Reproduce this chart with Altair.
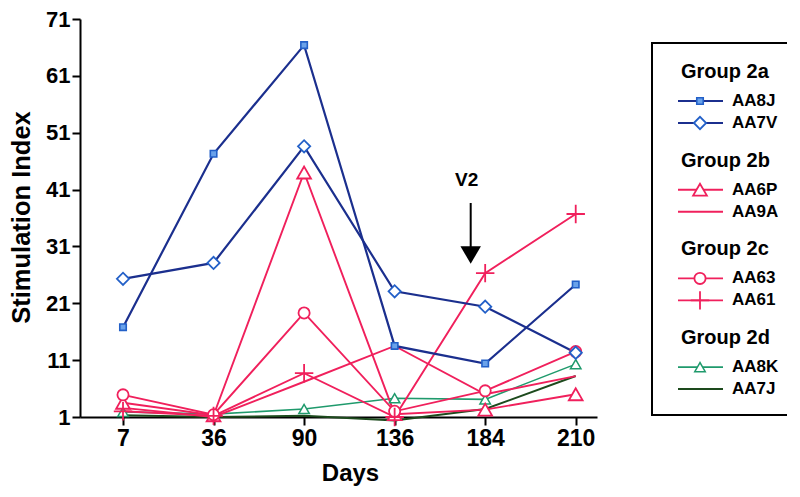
import json
import altair as alt
import pandas as pd

# ---------------- data ----------------
days = ["7", "36", "90", "136", "184", "210"]
groups = ["Group 2a", "Group 2b", "Group 2c", "Group 2d"]
group_members = [["AA8J", "AA7V"], ["AA6P", "AA9A"], ["AA63", "AA61"], ["AA8K", "AA7J"]]

AA8J = [16.8, 47.3, 66.4, 13.5, 10.4, 24.3]
AA7V = [25.3, 28.1, 48.6, 23.1, 20.4, 12.3]
AA6P = [3.5, 1.3, 44.0, 1.5, 2.3, 5.0]
AA9A = [2.6, 1.0, 7.2, 13.5, 5.0, 8.2]
AA63 = [4.9, 1.4, 19.3, 2.0, 5.6, 12.5]
AA61 = [2.0, 1.2, 8.7, 1.0, 26.3, 36.7]
AA8K = [1.9, 1.5, 2.4, 4.3, 4.1, 10.3]
AA7J = [1.3, 1.0, 1.2, 0.4, 2.4, 8.2]

series = {"AA8J": AA8J, "AA7V": AA7V, "AA6P": AA6P, "AA9A": AA9A,
          "AA63": AA63, "AA61": AA61, "AA8K": AA8K, "AA7J": AA7J}

annot_text = "V2"
annot_pos = 3.84      # between day 136 and 184 (index units)

# ---------------- styles ----------------
BLUE_L = "#1b2f8e"
BLUE_M = "#2360c8"
PINK = "#f0205c"
GREEN = "#1f9a6c"
DKGREEN = "#1d4a1d"
CROSS = "M-1,0L1,0M0,-1L0,1"

sty = {
    "AA8J": dict(line=BLUE_L, lw=2.2, shape="square", size=42, stroke=BLUE_M, fill="#6aa2ea", sw=1.6),
    "AA7V": dict(line=BLUE_L, lw=2.2, shape="diamond", size=150, stroke=BLUE_M, fill="white", sw=1.8),
    "AA6P": dict(line=PINK, lw=1.9, shape="triangle-up", size=190, stroke=PINK, fill="white", sw=1.8),
    "AA9A": dict(line=PINK, lw=1.9, shape=None),
    "AA63": dict(line=PINK, lw=1.9, shape="circle", size=125, stroke=PINK, fill="white", sw=1.8),
    "AA61": dict(line=PINK, lw=1.9, shape=CROSS, size=340, stroke=PINK, fill="none", sw=1.8),
    "AA8K": dict(line=GREEN, lw=1.6, shape="triangle-up", size=110, stroke=GREEN, fill="white", sw=1.5),
    "AA7J": dict(line=DKGREEN, lw=2.0, shape=None),
}

FONT = "Liberation Sans"
W, H = 517, 398
XMIN, XMAX = -0.475, 5.235
YMIN, YMAX = 1, 71
LEFT, TOP = 80, 19  # page position of plot origin


def px_to_x(px):
    return XMIN + (px - LEFT) / W * (XMAX - XMIN)


def py_to_y(py):
    return YMIN + (TOP + H - py) / H * (YMAX - YMIN)


xscale = alt.Scale(domain=[XMIN, XMAX], nice=False, zero=False)
yscale = alt.Scale(domain=[YMIN, YMAX], nice=False, zero=False)

xaxis = alt.Axis(values=list(range(len(days))),
                 labelExpr=json.dumps(days) + "[datum.value]",
                 title="Days", titleX=270, titleY=56, titleBaseline="middle",
                 titleAlign="center", grid=False)
yaxis = alt.Axis(values=list(range(1, 72, 10)), title="Stimulation Index",
                 titleX=-59, titleY=198, titleAngle=270, titleAlign="center",
                 titleBaseline="middle", grid=False)


def X(field):
    return alt.X(field, scale=xscale, axis=xaxis)


def Y(field):
    return alt.Y(field, scale=yscale, axis=yaxis)


rows = []
for name, vals in series.items():
    for i, v in enumerate(vals):
        rows.append({"s": name, "idx": i, "v": v})
df = pd.DataFrame(rows)

layers = []
draw_order = ["AA7J", "AA8K", "AA9A", "AA6P", "AA63", "AA61", "AA7V", "AA8J"]
for name in draw_order:
    st = sty[name]
    d = df[df.s == name]
    layers.append(alt.Chart(d).mark_line(color=st["line"], strokeWidth=st["lw"]).encode(
        x=X("idx:Q"), y=Y("v:Q")))

for name in draw_order:
    st = sty[name]
    if st["shape"] is None:
        continue
    d = df[df.s == name]
    layers.append(alt.Chart(d).mark_point(shape=st["shape"], size=st["size"], filled=False,
                                          stroke=st["stroke"], fill=st["fill"],
                                          strokeWidth=st["sw"], opacity=1).encode(
        x=X("idx:Q"), y=Y("v:Q")))

# ---------------- V2 arrow annotation ----------------
ann = pd.DataFrame([{"idx": annot_pos, "v": py_to_y(180), "t": annot_text}])
layers.append(alt.Chart(ann).mark_text(font=FONT, fontSize=19, fontWeight="bold",
                                        color="black", baseline="middle", dx=-4).encode(
    x=X("idx:Q"), y=Y("v:Q"), text="t:N"))
ann2 = pd.DataFrame([{"idx": annot_pos, "v": py_to_y(203), "v2": py_to_y(250)}])
layers.append(alt.Chart(ann2).mark_rule(color="black", strokeWidth=2).encode(
    x=X("idx:Q"), y=Y("v:Q"), y2="v2:Q"))
ann3 = pd.DataFrame([{"idx": annot_pos, "v": py_to_y(255)}])
layers.append(alt.Chart(ann3).mark_point(shape="triangle-down", size=420, filled=True,
                                         color="black", opacity=1).encode(
    x=X("idx:Q"), y=Y("v:Q")))

# ---------------- legend (laid out beside the plot) ----------------
box = pd.DataFrame([{"x1": px_to_x(652), "x2": px_to_x(797),
                     "y1": py_to_y(43), "y2": py_to_y(415)}])
layers.append(alt.Chart(box).mark_rect(fill="white", stroke="black", strokeWidth=2).encode(
    x=X("x1:Q"), x2="x2:Q", y=Y("y1:Q"), y2="y2:Q"))

head_rows, item_rows = [], []
for g, (gname, members) in enumerate(zip(groups, group_members)):
    hy = 72 + g * 88.7
    head_rows.append({"x": px_to_x(681), "y": py_to_y(hy), "t": gname})
    for k, m in enumerate(members):
        iy = hy + 29 + k * 22
        item_rows.append({"s": m, "x": px_to_x(732), "xa": px_to_x(678), "xb": px_to_x(723),
                          "xm": px_to_x(700), "y": py_to_y(iy), "t": m})
heads = pd.DataFrame(head_rows)
items = pd.DataFrame(item_rows)

layers.append(alt.Chart(heads).mark_text(font=FONT, fontSize=20, fontWeight="bold", align="left",
                                          baseline="middle", color="black").encode(
    x=X("x:Q"), y=Y("y:Q"), text="t:N"))
layers.append(alt.Chart(items).mark_text(font=FONT, fontSize=17, fontWeight="bold", align="left",
                                          baseline="middle", color="black").encode(
    x=X("x:Q"), y=Y("y:Q"), text="t:N"))
for _, r in items.iterrows():
    st = sty[r["s"]]
    one = items[items.s == r["s"]]
    layers.append(alt.Chart(one).mark_rule(color=st["line"], strokeWidth=st["lw"]).encode(
        x=X("xa:Q"), x2="xb:Q", y=Y("y:Q")))
    if st["shape"] is not None:
        layers.append(alt.Chart(one).mark_point(shape=st["shape"], size=st["size"], filled=False,
                                                stroke=st["stroke"], fill=st["fill"],
                                                strokeWidth=st["sw"], opacity=1).encode(
            x=X("xm:Q"), y=Y("y:Q")))

chart = alt.layer(*layers).properties(
    width=W, height=H,
    autosize=alt.AutoSizeParams(type="none"),
    padding={"left": LEFT - 8, "top": TOP - 8, "right": 190, "bottom": 72},
).configure_view(stroke=None).configure_axis(
    domainColor="black", domainWidth=2, tickColor="black", tickWidth=2, tickSize=8,
    labelFont=FONT, labelFontSize=22, labelFontWeight="bold", labelColor="black",
    titleFont=FONT, titleFontSize=24, titleFontWeight="bold", titleColor="black",
    labelPadding=2,
).configure_axisX(titleFontSize=24, labelFontSize=23).configure_axisY(titleFontSize=25.5)

chart.save("out.html", embed_options={"renderer": "svg", "actions": False})
